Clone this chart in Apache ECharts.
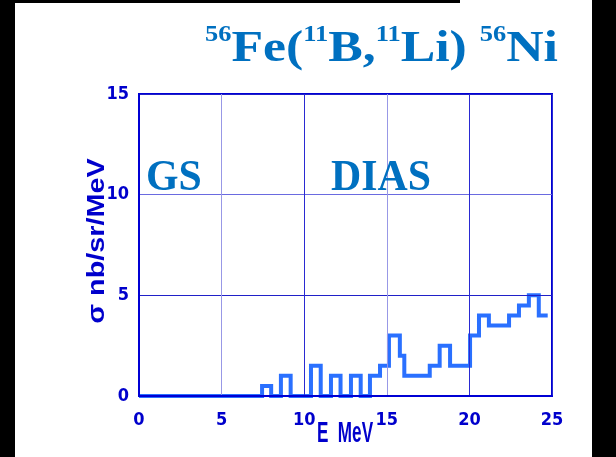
<!DOCTYPE html>
<html>
<head>
<meta charset="utf-8">
<script src="https://cdn.jsdelivr.net/npm/echarts@6/dist/echarts.min.js"></script>
<style>
  html, body { margin: 0; padding: 0; background: #ffffff; }
  #chart { width: 616px; height: 457px; }
</style>
</head>
<body>
<div id="chart"></div>
<script>
// Excitation-energy spectrum: bin edges (MeV) and cross section per bin (nb/sr/MeV)
const binEdges = [0, 7.45, 8.0, 8.59, 9.18, 10.41, 11.0, 11.62, 12.2, 12.83, 13.42, 13.98,
  14.59, 15.13, 15.79, 16.06, 17.6, 18.2, 18.83, 20.04, 20.58, 21.18, 22.4, 23.0, 23.6, 24.2, 24.74];
const binValues = [0, 0.5, 0, 1.0, 0, 1.5, 0, 1.0, 0, 1.0, 0, 1.0,
  1.5, 3.0, 2.0, 1.0, 1.5, 2.5, 1.5, 3.0, 4.0, 3.5, 4.0, 4.5, 5.0, 4.0];

// Axis ranges
const xRange = [0, 25];
const xStep = 5;
const yRange = [0, 15];
const yStep = 5;

// Step-line points: each bin starts at its left edge, the last point closes the final bin
const stepPoints = binValues.map((v, i) => [binEdges[i], v]);
stepPoints.push([binEdges[binEdges.length - 1], binValues[binValues.length - 1]]);

const axisBlue = '#0000d4';
const textBlue = '#0000cc';
const titleBlue = '#0070c0';
const narrow = "'Liberation Sans Narrow', 'DejaVu Sans Condensed', 'Arial Narrow', sans-serif";
const serif = "'Liberation Serif', 'DejaVu Serif', serif";

const chart = echarts.init(document.getElementById('chart'), null, { renderer: 'canvas' });

chart.setOption({
  animation: false,
  backgroundColor: '#ffffff',
  grid: {
    left: 139, right: 64, top: 94, bottom: 61,
    show: true, borderColor: axisBlue, borderWidth: 2, backgroundColor: '#ffffff'
  },
  xAxis: {
    type: 'value', min: xRange[0], max: xRange[1], interval: xStep, z: 3,
    axisLine: { show: true, onZero: false, lineStyle: { color: axisBlue, width: 2 } },
    axisTick: { show: false },
    axisLabel: { color: textBlue, fontFamily: narrow, fontWeight: 'bold', fontSize: 18, margin: 15 },
    splitLine: { show: true, lineStyle: { width: 1,
      color: ['#2a2ad2', '#9898e6', '#2a2ad2', '#9898e6', '#2a2ad2', '#2a2ad2'] } }
  },
  yAxis: {
    type: 'value', min: yRange[0], max: yRange[1], interval: yStep, z: 3,
    axisLine: { show: true, onZero: false, lineStyle: { color: axisBlue, width: 2 } },
    axisTick: { show: false },
    axisLabel: { color: textBlue, fontFamily: narrow, fontWeight: 'bold', fontSize: 18, margin: 10 },
    splitLine: { show: true, lineStyle: { width: 1,
      color: ['#2020c8', '#2020c8', '#6a6ae0', '#2020c8'] } }
  },
  series: [{
    type: 'line',
    data: stepPoints,
    step: 'end',
    symbol: 'none',
    clip: false,
    z: 2,
    lineStyle: { color: '#2a70ff', width: 4, join: 'miter', cap: 'butt' }
  }],
  graphic: [
    // dark frame pieces around the slide
    { type: 'rect', left: 0, top: 0, z: 10, shape: { x: 0, y: 0, width: 15, height: 457 }, style: { fill: '#000000' } },
    { type: 'rect', left: 0, top: 0, z: 10, shape: { x: 0, y: 0, width: 460, height: 3 }, style: { fill: '#000000' } },
    { type: 'rect', left: 592, top: 0, z: 10, shape: { x: 0, y: 0, width: 24, height: 457 }, style: { fill: '#000000' } },
    // reaction title with superscript mass numbers
    {
      type: 'text', x: 205, y: 24, scaleX: 1.15, z: 10,
      style: {
        text: '{s|56}{b|Fe(}{s|11}{b|B,}{s|11}{b|Li) }{s|56}{b|Ni}',
        verticalAlign: 'top', align: 'left',
        rich: {
          b: { fontFamily: serif, fontWeight: 'bold', fontSize: 45, lineHeight: 48, fill: titleBlue, verticalAlign: 'bottom' },
          s: { fontFamily: serif, fontWeight: 'bold', fontSize: 23, lineHeight: 20, fill: titleBlue, verticalAlign: 'top' }
        }
      }
    },
    // state labels
    {
      type: 'text', x: 146, y: 178, scaleX: 0.93, z: 10,
      style: { text: 'GS', fill: titleBlue, font: "bold 45px " + serif, align: 'left', verticalAlign: 'middle' }
    },
    {
      type: 'text', x: 331, y: 178, scaleX: 0.93, z: 10,
      style: { text: 'DIAS', fill: titleBlue, font: "bold 45px " + serif, align: 'left', verticalAlign: 'middle' }
    },
    // axis titles
    {
      type: 'text', x: 97, y: 241, rotation: Math.PI / 2, scaleX: 1.2, z: 10,
      style: { text: 'σ nb/sr/MeV', fill: textBlue, font: "bold 24px 'Liberation Sans', 'DejaVu Sans', sans-serif",
               align: 'center', verticalAlign: 'middle' }
    },
    {
      type: 'text', x: 345, y: 434, scaleX: 0.57, z: 10,
      style: { text: 'E  MeV', fill: textBlue, font: "bold 30px 'Liberation Sans', 'DejaVu Sans', sans-serif",
               align: 'center', verticalAlign: 'middle' }
    }
  ]
});
</script>
</body>
</html>
